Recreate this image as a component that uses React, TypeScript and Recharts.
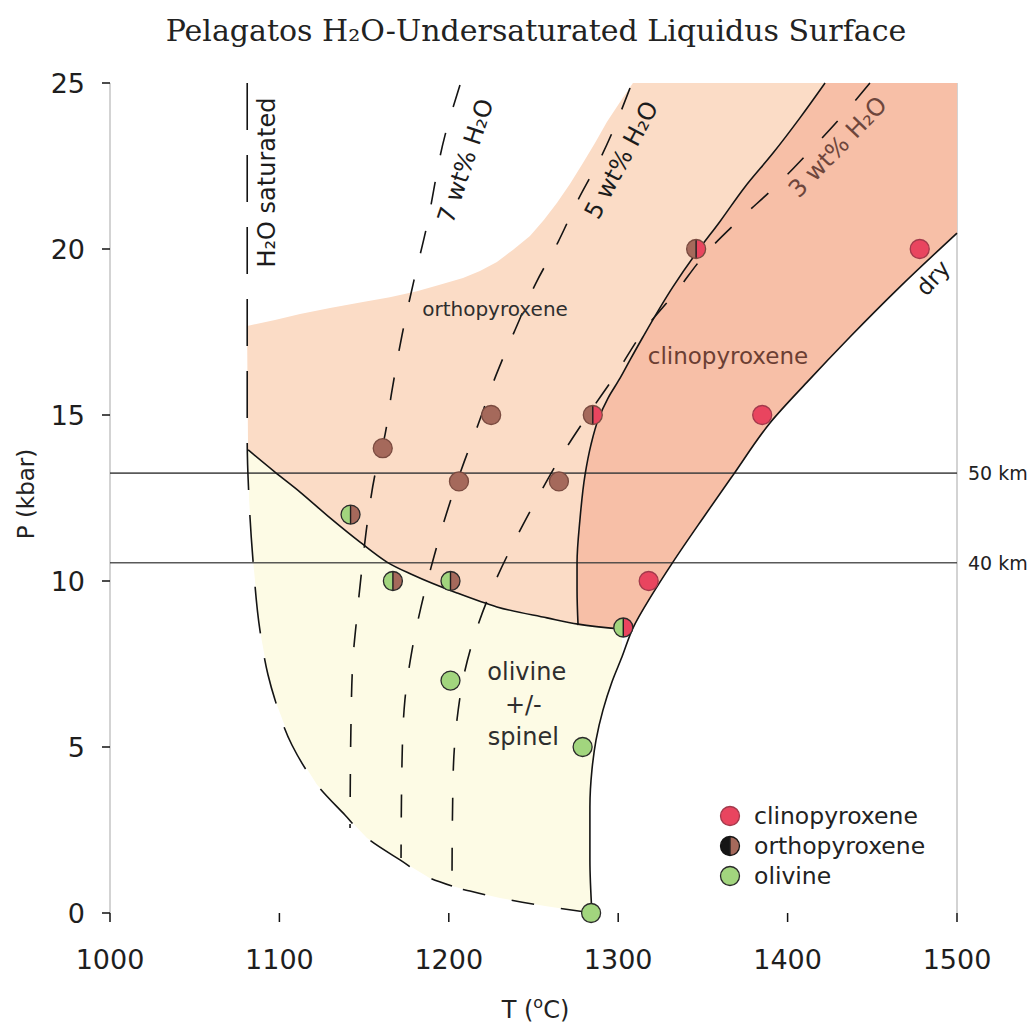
import React from 'react';
import { ScatterChart, Scatter, XAxis, YAxis, ReferenceLine, Legend, Label } from 'recharts';

type Pair = [number, number];

const X_TICKS = [1000, 1100, 1200, 1300, 1400, 1500];
const Y_TICKS = [0, 5, 10, 15, 20, 25];

// Liquidus curves, [T (°C), P (kbar)], ordered from high to low pressure
const H2O_SATURATED: Pair[] = [
  [1081, 25], [1081, 14.25], [1082.1, 12.44], [1084.4, 10.63], [1088.5, 8.52], [1093.3, 7.17],
  [1097.4, 6.42], [1107.4, 5.06], [1122.2, 3.86], [1138.7, 2.95], [1151.7, 2.26], [1171.2, 1.6],
  [1188.9, 1.05], [1201.9, 0.81],
];
const WT7_H2O: Pair[] = [
  [1206.6, 24.94], [1197.8, 23.43], [1186.5, 20.57], [1179.5, 19.07], [1172.4, 17.41], [1166.5, 15.75],
  [1161.7, 14.25], [1157.0, 13.34], [1152.3, 11.9], [1148.8, 10.42], [1145.8, 8.95], [1143.4, 7.62],
  [1142.3, 5.81], [1141.7, 2.56],
];
const WT5_H2O: Pair[] = [
  [1307.0, 24.85], [1290.4, 22.83], [1276.3, 21.48], [1264.5, 20.21], [1251.5, 18.98], [1239.1, 17.56],
  [1227.9, 16.2], [1217.2, 14.7], [1209.0, 13.58], [1198.9, 12.08], [1190.7, 10.63], [1183.6, 9.22],
  [1178.3, 7.92], [1174.1, 6.42], [1172.4, 4.61], [1171.8, 1.66],
];
const WT3_H2O: Pair[] = [
  [1448.6, 25], [1432.1, 24.0], [1412.0, 22.89], [1392.5, 21.87], [1371.9, 20.9], [1353.0, 19.94],
  [1333.5, 18.67], [1317.6, 17.71], [1296.3, 16.05], [1283.3, 15.09], [1266.8, 13.8], [1252.6, 12.53],
  [1239.1, 11.23], [1226.7, 9.91], [1216.6, 8.58], [1209.6, 7.32], [1204.8, 5.81], [1202.5, 4.01],
  [1201.9, 0.81], [1212.5, 0.66], [1230.2, 0.45], [1256.8, 0.21], [1284.5, 0],
];
const DRY: Pair[] = [
  [1500, 20.48], [1466.3, 18.86], [1436.8, 17.35], [1411.5, 15.99], [1389.6, 14.76], [1367.8, 13.19],
  [1350.1, 11.9], [1332.3, 10.57], [1319.9, 9.58], [1308.7, 8.58], [1302.2, 7.71], [1296.3, 6.96],
  [1291.0, 6.11], [1286.9, 5.21], [1284.5, 4.31], [1283.3, 3.19], [1283.3, 1.6], [1284.5, 0],
];
// Orthopyroxene / clinopyroxene boundary, top to bottom
const OPX_CPX: Pair[] = [
  [1422.1, 25], [1407.3, 23.95], [1391.4, 22.89], [1374.8, 21.87], [1360.1, 20.83], [1346.5, 19.91],
  [1332.3, 18.86], [1314.6, 17.35], [1307.0, 16.66], [1301.1, 16.11], [1294.0, 15.51], [1288.1, 14.85],
  [1283.9, 14.1], [1280.4, 13.19], [1277.4, 11.84], [1275.7, 10.54], [1275.7, 9.73], [1276.3, 8.67],
];
// Olivine / orthopyroxene boundary, left to right
const OL_OPX: Pair[] = [
  [1081.5, 13.95], [1097.4, 13.28], [1112.2, 12.68], [1129.9, 11.9], [1147.6, 11.17], [1163.5, 10.57],
  [1178.9, 10.18], [1204.8, 9.64], [1228.4, 9.22], [1258.0, 8.89], [1276.3, 8.7], [1302.2, 8.55],
];
// Upper limit of the orthopyroxene shading, left to right
const OPX_TOP: Pair[] = [
  [1080.9, 17.68], [1097.4, 17.86], [1112.2, 18.04], [1129.9, 18.22], [1149.3, 18.4], [1165.2, 18.55],
  [1181.2, 18.73], [1194.7, 18.92], [1208.4, 19.13], [1218.4, 19.34], [1228.4, 19.61], [1237.8, 19.97],
  [1247.9, 20.39], [1256.1, 20.87], [1263.9, 21.39], [1271.5, 21.96], [1279.2, 22.59], [1286.3, 23.19],
  [1293.4, 23.83], [1301.1, 24.43], [1308.7, 25],
];

// Experimental runs
const CPX_RUNS: Pair[] = [[1478, 20], [1385, 15], [1318, 10]];
const OPX_RUNS: Pair[] = [[1161, 14], [1225, 15], [1206, 13], [1265, 13]];
const OL_RUNS: Pair[] = [[1201, 7], [1279, 5], [1284, 0]];
const OL_OPX_RUNS: Pair[] = [[1142, 12], [1167, 10], [1201, 10]];
const OL_CPX_RUNS: Pair[] = [[1303, 8.6]];
const OPX_CPX_RUNS: Pair[] = [[1285, 15], [1346, 20]];

// Depth reference lines (kbar)
const DEPTHS = [
  { label: '50 km', p: 13.25 },
  { label: '40 km', p: 10.55 },
];

const FIELD_LABELS = [
  { id: 'sat', text: 'H₂O saturated', x: 1092.7, y: 22.0 },
  { id: 'w7', text: '7 wt% H₂O', x: 1210, y: 22.65 },
  { id: 'w5', text: '5 wt% H₂O', x: 1302, y: 22.68 },
  { id: 'w3', text: '3 wt% H₂O', x: 1429.7, y: 23.07 },
  { id: 'dry', text: 'dry', x: 1485.8, y: 19.13 },
  { id: 'opx', text: 'orthopyroxene', x: 1227.3, y: 18.19 },
  { id: 'cpx', text: 'clinopyroxene', x: 1364.8, y: 16.78 },
  { id: 'ol', text: 'olivine', x: 1246, y: 7.26 },
  { id: 'ol', text: '+/-', x: 1244, y: 6.27 },
  { id: 'ol', text: 'spinel', x: 1244, y: 5.3 },
];

const LEGEND_ITEMS = [
  { kind: 'cpx', label: 'clinopyroxene' },
  { kind: 'legendOpx', label: 'orthopyroxene' },
  { kind: 'ol', label: 'olivine' },
];

const FONT = '"DejaVu Sans", Verdana, sans-serif';
const OPX_FILL = '#fbdcc6';
const CPX_FILL = '#f7bfa7';
const OL_FILL = '#fdfbe5';
const RED = '#e9455f';
const BROWN = '#a5695b';
const GREEN = '#a2d57e';

const LABEL_STYLE: Record<string, { size: number; angle: number; color: string }> = {
  sat: { size: 24, angle: -90, color: '#1c1c1c' },
  w7: { size: 24, angle: -71.5, color: '#1c1c1c' },
  w5: { size: 24, angle: -62, color: '#1c1c1c' },
  w3: { size: 24, angle: -46, color: '#6e463c' },
  dry: { size: 23, angle: -48, color: '#1c1c1c' },
  opx: { size: 20, angle: 0, color: '#2e2e2e' },
  cpx: { size: 23, angle: 0, color: '#6b3e33' },
  ol: { size: 24, angle: 0, color: '#2e2e2e' },
  km: { size: 19, angle: 0, color: '#222' },
};

const MARK_STYLE: Record<string, { left: string; right: string; stroke: string }> = {
  cpx: { left: RED, right: RED, stroke: '#a23a4c' },
  opx: { left: BROWN, right: BROWN, stroke: '#7a4b40' },
  ol: { left: GREEN, right: GREEN, stroke: '#2a2a2a' },
  olOpx: { left: GREEN, right: BROWN, stroke: '#2a2a2a' },
  olCpx: { left: GREEN, right: RED, stroke: '#2a2a2a' },
  opxCpx: { left: BROWN, right: RED, stroke: '#7a4b40' },
  legendOpx: { left: '#151515', right: BROWN, stroke: '#151515' },
};

const pts = (a: Pair[]) => a.map(([x, y]) => ({ x, y }));

const opxField = [
  ...OPX_TOP,
  ...OPX_CPX,
  ...OL_OPX.slice(0, -1).reverse(),
];
const cpxField = [
  ...OPX_CPX,
  OL_OPX[OL_OPX.length - 1],
  ...DRY.filter(([, p]) => p >= 8.58).reverse(),
  [1500, 25] as Pair,
];
const olField = [
  ...OL_OPX,
  ...DRY.filter(([, p]) => p < 8.58),
  ...WT3_H2O.filter(([, p]) => p < 0.8).reverse(),
  ...H2O_SATURATED.filter(([, p]) => p < 14).reverse(),
];

const noMark = () => <g />;

function Marker({ cx, cy, r, kind }: { cx: number; cy: number; r: number; kind: string }) {
  const s = MARK_STYLE[kind];
  if (s.left === s.right) {
    return <circle cx={cx} cy={cy} r={r} fill={s.left} stroke={s.stroke} strokeWidth={1.3} />;
  }
  return (
    <g>
      <path d={`M${cx},${cy - r} A${r},${r} 0 0 0 ${cx},${cy + r} Z`} fill={s.left} />
      <path d={`M${cx},${cy - r} A${r},${r} 0 0 1 ${cx},${cy + r} Z`} fill={s.right} />
      <line x1={cx} y1={cy - r} x2={cx} y2={cy + r} stroke="#1e1e1e" strokeWidth={1.4} />
      <circle cx={cx} cy={cy} r={r} fill="none" stroke={s.stroke} strokeWidth={1.3} />
    </g>
  );
}

const runMark = (kind: string) => (props: any) => <Marker cx={props.cx} cy={props.cy} r={9.5} kind={kind} />;

const textMark = (props: any) => {
  const { cx, cy, payload } = props;
  const st = LABEL_STYLE[payload.id];
  return (
    <text
      x={cx}
      y={cy}
      transform={st.angle ? `rotate(${st.angle} ${cx} ${cy})` : undefined}
      textAnchor="middle"
      dominantBaseline="central"
      fontSize={st.size}
      fill={st.color}
      fontFamily={FONT}
    >
      {payload.text}
    </text>
  );
};

const kmMark = (props: any) => {
  const { cx, cy, payload } = props;
  const st = LABEL_STYLE.km;
  return (
    <text x={cx + 11} y={cy} textAnchor="start" dominantBaseline="central" fontSize={st.size} fill={st.color} fontFamily={FONT}>
      {payload.label}
    </text>
  );
};

const LegendBox = () => (
  <div style={{ fontFamily: FONT, fontSize: 23.5, color: '#222' }}>
    {LEGEND_ITEMS.map((item) => (
      <div key={item.label} style={{ display: 'flex', alignItems: 'center', height: 30 }}>
        <svg width={24} height={24} style={{ display: 'block' }}>
          <Marker cx={12} cy={12} r={9.5} kind={item.kind} />
        </svg>
        <span style={{ marginLeft: 12, lineHeight: '30px' }}>{item.label}</span>
      </div>
    ))}
  </div>
);

const solid = { stroke: '#141414', strokeWidth: 1.6, fill: 'none' };
const dashedShort = { stroke: '#141414', strokeWidth: 1.6, fill: 'none', strokeDasharray: '23 27' };
const dashedLong = { stroke: '#141414', strokeWidth: 1.6, fill: 'none', strokeDasharray: '47 25' };

export default function App() {
  return (
    <div style={{ position: 'absolute', left: 0, top: 0, width: 1032, height: 1023, background: '#fff' }}>
      <div
        style={{
          position: 'absolute',
          left: 0,
          top: 14,
          width: 1072,
          textAlign: 'center',
          fontFamily: '"DejaVu Serif", serif',
          fontSize: 30,
          lineHeight: '34px',
          color: '#222',
          zIndex: 2,
        }}
      >
        Pelagatos H₂O-Undersaturated Liquidus Surface
      </div>
      <ScatterChart width={1032} height={1023} margin={{ top: 83, right: 75, bottom: 70, left: 50 }}>
        <XAxis
          type="number"
          dataKey="x"
          domain={[1000, 1500]}
          ticks={X_TICKS}
          interval={0}
          axisLine={false}
          tickLine={{ stroke: '#111', strokeWidth: 1.5 }}
          tickSize={9}
          tickMargin={28}
          height={40}
          tick={{ fontSize: 27, fill: '#1e1e1e', fontFamily: FONT }}
        >
          <Label
            content={(p: any) => {
              const vb = p.viewBox;
              return (
                <text x={vb.x + vb.width / 2 + 2} y={vb.y + 97} textAnchor="middle" dominantBaseline="central" fontSize={24} fill="#222" fontFamily={FONT}>
                  T (<tspan fontSize={16} dy={-8}>o</tspan>
                  <tspan dy={8}>C)</tspan>
                </text>
              );
            }}
          />
        </XAxis>
        <YAxis
          type="number"
          dataKey="y"
          domain={[0, 25]}
          ticks={Y_TICKS}
          interval={0}
          axisLine={{ stroke: '#c4c4c4', strokeWidth: 1.5 }}
          tickLine={{ stroke: '#111', strokeWidth: 1.5 }}
          tickSize={8}
          tickMargin={17}
          width={60}
          tick={{ fontSize: 27, fill: '#1e1e1e', fontFamily: FONT }}
        >
          <Label
            content={(p: any) => {
              const vb = p.viewBox;
              const cx = vb.x - 24;
              const cy = vb.y + vb.height / 2 - 4;
              return (
                <text x={cx} y={cy} transform={`rotate(-90 ${cx} ${cy})`} textAnchor="middle" dominantBaseline="central" fontSize={23} fill="#222" fontFamily={FONT}>
                  P (kbar)
                </text>
              );
            }}
          />
        </YAxis>

        {/* phase fields */}
        <Scatter data={pts(olField)} line={{ fill: OL_FILL, stroke: 'none' }} lineJointType="linear" shape={noMark} isAnimationActive={false} legendType="none" />
        <Scatter data={pts(opxField)} line={{ fill: OPX_FILL, stroke: 'none' }} lineJointType="linear" shape={noMark} isAnimationActive={false} legendType="none" />
        <Scatter data={pts(cpxField)} line={{ fill: CPX_FILL, stroke: 'none' }} lineJointType="linear" shape={noMark} isAnimationActive={false} legendType="none" />

        <ReferenceLine x={1500} stroke="#c4c4c4" strokeWidth={1.5} />

        {/* depth lines */}
        {DEPTHS.map((d) => (
          <Scatter
            key={d.label}
            data={[{ x: 1000, y: d.p, label: '' }, { x: 1500, y: d.p, label: d.label }]}
            line={{ stroke: '#3c3c3c', strokeWidth: 1.7, strokeOpacity: 0.85, fill: 'none' }}
            lineJointType="linear"
            shape={(p: any) => (p.payload.label ? kmMark(p) : <g />)}
            isAnimationActive={false}
            legendType="none"
          />
        ))}

        {/* liquidus curves */}
        <Scatter data={pts(H2O_SATURATED)} line={dashedLong} lineJointType="monotoneY" shape={noMark} isAnimationActive={false} legendType="none" />
        <Scatter data={pts(WT7_H2O)} line={dashedShort} lineJointType="monotoneY" shape={noMark} isAnimationActive={false} legendType="none" />
        <Scatter data={pts(WT5_H2O)} line={dashedShort} lineJointType="monotoneY" shape={noMark} isAnimationActive={false} legendType="none" />
        <Scatter data={pts(WT3_H2O)} line={dashedShort} lineJointType="monotoneY" shape={noMark} isAnimationActive={false} legendType="none" />
        <Scatter data={pts(OL_OPX)} line={solid} lineJointType="monotoneX" shape={noMark} isAnimationActive={false} legendType="none" />
        <Scatter data={pts(OPX_CPX)} line={solid} lineJointType="monotoneY" shape={noMark} isAnimationActive={false} legendType="none" />
        <Scatter data={pts(DRY)} line={solid} lineJointType="monotoneY" shape={noMark} isAnimationActive={false} legendType="none" />

        {/* run products */}
        <Scatter data={pts(CPX_RUNS)} shape={runMark('cpx')} isAnimationActive={false} legendType="none" />
        <Scatter data={pts(OPX_RUNS)} shape={runMark('opx')} isAnimationActive={false} legendType="none" />
        <Scatter data={pts(OL_RUNS)} shape={runMark('ol')} isAnimationActive={false} legendType="none" />
        <Scatter data={pts(OL_OPX_RUNS)} shape={runMark('olOpx')} isAnimationActive={false} legendType="none" />
        <Scatter data={pts(OL_CPX_RUNS)} shape={runMark('olCpx')} isAnimationActive={false} legendType="none" />
        <Scatter data={pts(OPX_CPX_RUNS)} shape={runMark('opxCpx')} isAnimationActive={false} legendType="none" />

        {/* field and curve labels */}
        <Scatter data={FIELD_LABELS} shape={textMark} isAnimationActive={false} legendType="none" />

        <Legend
          layout="vertical"
          align="center"
          verticalAlign="middle"
          content={LegendBox}
          wrapperStyle={{ left: 718, top: 801, width: 260 }}
        />
      </ScatterChart>
    </div>
  );
}
